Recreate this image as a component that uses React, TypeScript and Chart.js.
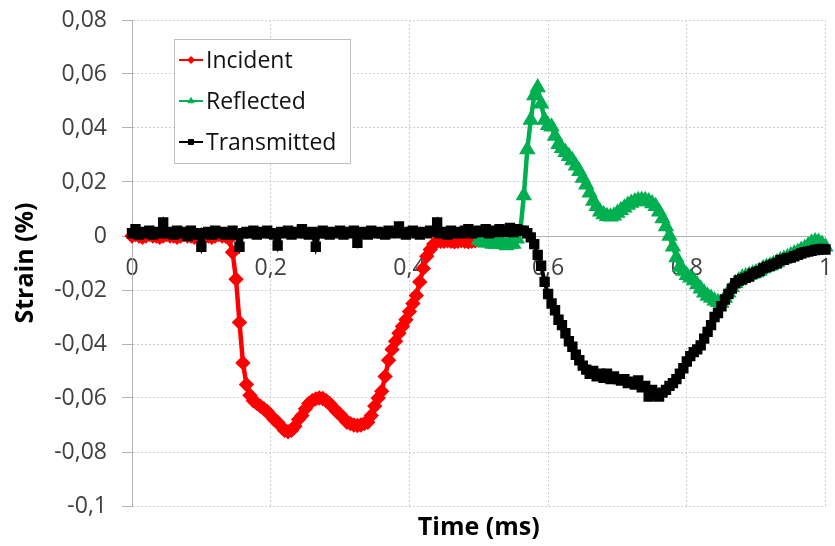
import React, { useEffect, useRef } from "react";
import { Chart, registerables } from "chart.js";
import { drawPoint } from "chart.js/helpers";

Chart.register(...registerables);

// sampling grid of the recorded signals (ms)
const timeStep = 0.005;
const timeMs = Array.from({ length: 201 }, (_, i) => Math.round(i * timeStep * 1000) / 1000);

const seriesNames = ["Incident", "Reflected", "Transmitted"];

// incident wave, t = 0 .. 0.5 ms
const incidentStrain = [
  0, 0.0005, 0, -0.0005, 0, 0.0005, 0, 0, -0.0005, 0,
  0.0005, 0, 0, -0.0005, 0, 0.0005, 0, 0, -0.0005, 0,
  0.0005, 0, 0, -0.0005, 0, 0.0005, 0, 0, -0.001,
  -0.006, -0.016, -0.032, -0.047, -0.055, -0.059, -0.061, -0.062, -0.063, -0.064,
  -0.065, -0.0665, -0.068, -0.069, -0.0705, -0.072, -0.0725, -0.072, -0.0705, -0.068,
  -0.0665, -0.064, -0.062, -0.061, -0.0603, -0.06, -0.0602, -0.061, -0.062, -0.0635,
  -0.065, -0.066, -0.0675, -0.069, -0.0695, -0.07, -0.0702, -0.07, -0.0695, -0.069,
  -0.0665, -0.063, -0.06, -0.0575, -0.052, -0.046, -0.042, -0.039, -0.036, -0.0335,
  -0.031, -0.028, -0.025, -0.022, -0.017, -0.012, -0.0075, -0.005, -0.003, -0.002,
  -0.002, -0.002, -0.0018, -0.002, -0.0022, -0.002, -0.0018, -0.002, -0.0022, -0.002,
  -0.0018, -0.0015,
];
const incidentStart = 0;

// reflected wave, t = 0.5 .. 1 ms
const reflectedStrain = [
  -0.0015, -0.002, -0.0025, -0.0025, -0.003, -0.003, -0.0025, -0.003, -0.0035, -0.003,
  -0.003, -0.001, 0.002, 0.015, 0.032, 0.043, 0.052, 0.055, 0.049, 0.043,
  0.041, 0.0405, 0.037, 0.034, 0.0325, 0.031, 0.0295, 0.028, 0.026, 0.024,
  0.0215, 0.019, 0.016, 0.013, 0.011, 0.009, 0.008, 0.0073, 0.0071, 0.0075,
  0.0085, 0.0095, 0.0105, 0.0115, 0.0122, 0.0128, 0.0132, 0.0133, 0.0132, 0.0128,
  0.012, 0.011, 0.009, 0.0065, 0.0035, 0, -0.004, -0.008, -0.0115, -0.013,
  -0.0145, -0.0155, -0.0165, -0.018, -0.0195, -0.021, -0.0222, -0.023, -0.024, -0.0245,
  -0.0248, -0.023, -0.021, -0.019, -0.0175, -0.0165, -0.0155, -0.015, -0.0145, -0.014,
  -0.0135, -0.013, -0.012, -0.0115, -0.011, -0.0105, -0.0098, -0.009, -0.0085, -0.008,
  -0.0072, -0.0065, -0.006, -0.0052, -0.0045, -0.0035, -0.0025, -0.002, -0.0022, -0.003,
  -0.004,
];
const reflectedStart = 100;

// transmitted wave, t = 0 .. 1 ms
const transmittedStrain = [
  0.001, 0.0025, 0.0005, 0.0015, 0.001, 0.002, 0.0005, 0.0015, 0.001, 0.005,
  0.001, 0.0015, 0.0005, 0.002, 0.001, 0.0015, 0, 0.002, 0.001, 0.0005,
  -0.004, 0.001, 0.0015, 0.0005, 0.002, 0.001, 0.0015, 0.0005, 0.001, 0.002,
  0.0005, -0.004, 0.001, 0.0015, 0.001, 0.002, 0.0005, 0.0015, 0.001, 0.002,
  0.001, 0.0005, -0.0035, 0.0015, 0.001, 0.002, 0.0005, 0.0015, 0.001, 0.0025,
  0.001, 0.0005, 0.0015, -0.004, 0.001, 0.002, 0.001, 0.0005, 0.0015, 0.001,
  0.002, 0.0005, 0.0015, 0.001, 0.002, -0.0025, 0.001, 0.0015, 0.0005, 0.002,
  0.001, 0.0015, 0.001, 0.0005, 0.002, 0.001, 0.0015, 0.0035, 0.001, 0.0005,
  0.0015, 0.002, 0.001, 0.0005, 0.0015, 0.001, 0.002, 0.0015, 0.005, 0.001,
  0.0015, 0.0005, 0.002, 0.001, 0.0015, 0.001, 0.002, 0.0025, 0.001, 0.0015,
  0.002, 0.0015, 0.0025, 0.001, 0.002, 0.0015, 0.0025, 0.002, 0.0015, 0.003,
  0.0015, 0.0025, 0.002,
  0.002, 0.001, -0.0005, -0.003, -0.007, -0.011, -0.017, -0.0215,
  -0.025, -0.0275, -0.031, -0.033, -0.036, -0.039, -0.041, -0.044, -0.046, -0.048,
  -0.0495, -0.051, -0.05, -0.052, -0.051, -0.0525, -0.051, -0.053, -0.052, -0.053,
  -0.0535, -0.053, -0.0545, -0.054, -0.055, -0.0535, -0.056, -0.0555, -0.0595, -0.057,
  -0.0585, -0.0595, -0.058, -0.057, -0.0555, -0.0545, -0.053, -0.051, -0.049, -0.0465,
  -0.0445, -0.043, -0.042, -0.0405, -0.038, -0.0355, -0.033, -0.03, -0.0285, -0.026,
  -0.0235, -0.0215, -0.0195, -0.0175, -0.0165, -0.016, -0.0155, -0.015, -0.014, -0.0135,
  -0.013, -0.012, -0.0115, -0.011, -0.0105, -0.01, -0.009, -0.0088, -0.0082, -0.008,
  -0.0075, -0.007, -0.0065, -0.006, -0.0058, -0.0055, -0.0052, -0.005, -0.0048, -0.005,
];
const transmittedStart = 0;

const strainTicks = { min: -0.1, max: 0.08, step: 0.02 };
const timeTicks = { min: 0, max: 1, step: 0.2 };

const toPoints = (values: number[], start: number) =>
  values.map((v, i) => ({ x: timeMs[start + i], y: v }));

const commaNumber = (v: number) => String(Math.round(v * 100) / 100).replace(".", ",");

const FONT = "'Open Sans', 'Liberation Sans', sans-serif";

const insideLegend = {
  id: "insideLegend",
  afterDraw(chart: Chart) {
    const { ctx, chartArea } = chart;
    const x = chartArea.left + 42;
    const y = chartArea.top + 19;
    const w = 176;
    const h = 124;
    ctx.save();
    ctx.fillStyle = "#ffffff";
    ctx.fillRect(x, y, w, h);
    ctx.strokeStyle = "#c0c0c0";
    ctx.lineWidth = 1;
    ctx.strokeRect(x + 0.5, y + 0.5, w, h);
    chart.data.datasets.forEach((ds: any, i: number) => {
      const cy = y + 21 + i * 41;
      ctx.strokeStyle = ds.borderColor;
      ctx.lineWidth = 2;
      ctx.beginPath();
      ctx.moveTo(x + 5, cy);
      ctx.lineTo(x + 29, cy);
      ctx.stroke();
      ctx.fillStyle = ds.pointBackgroundColor;
      ctx.strokeStyle = ds.pointBorderColor;
      ctx.lineWidth = 1;
      drawPoint(ctx, { pointStyle: ds.pointStyle, radius: 3.5, rotation: 0, borderWidth: 1 }, x + 17, cy);
      ctx.fillStyle = "#111111";
      ctx.font = `23px ${FONT}`;
      ctx.textBaseline = "alphabetic";
      ctx.textAlign = "left";
      ctx.fillText(ds.label, x + 32, cy + 8);
    });
    ctx.restore();
  },
};

const StrainChart = () => {
  const chartRef = useRef<HTMLCanvasElement>(null);
  const chartInstanceRef = useRef<Chart | null>(null);

  useEffect(() => {
    document.body.style.margin = "0";
    if (chartRef.current && !chartInstanceRef.current) {
      const context = chartRef.current.getContext("2d");
      if (context) {
        chartInstanceRef.current = new Chart(context, {
          type: "line",
          data: {
            datasets: [
              {
                label: seriesNames[0],
                data: toPoints(incidentStrain, incidentStart),
                borderColor: "#ff0000",
                backgroundColor: "#ff0000",
                pointBackgroundColor: "#ff0000",
                pointBorderColor: "#ff0000",
                pointStyle: "rectRot",
                pointRadius: 4.5,
                borderWidth: 4.5,
                order: 3,
              },
              {
                label: seriesNames[1],
                data: toPoints(reflectedStrain, reflectedStart),
                borderColor: "#00b050",
                backgroundColor: "#00b050",
                pointBackgroundColor: "#00b050",
                pointBorderColor: "#00b050",
                pointStyle: "triangle",
                pointRadius: 5,
                borderWidth: 4.5,
                order: 2,
              },
              {
                label: seriesNames[2],
                data: toPoints(transmittedStrain, transmittedStart),
                borderColor: "#000000",
                backgroundColor: "#000000",
                pointBackgroundColor: "#000000",
                pointBorderColor: "#000000",
                pointStyle: "rect",
                pointRadius: 4.5,
                borderWidth: 4,
                order: 1,
              },
            ],
          },
          options: {
            animation: false,
            responsive: true,
            maintainAspectRatio: false,
            clip: 8,
            font: { family: FONT },
            elements: { line: { tension: 0 } },
            layout: { padding: { left: 0, right: 5, top: 20, bottom: 0 } },
            scales: {
              x: {
                type: "linear",
                position: { y: 0 },
                min: timeTicks.min,
                max: timeTicks.max,
                afterFit: (s: any) => {
                  s.paddingLeft = 0;
                  s.paddingRight = 0;
                },
                ticks: {
                  stepSize: timeTicks.step,
                  padding: 19,
                  color: "#404040",
                  font: { family: FONT, size: 23 },
                  callback: (v: any) => commaNumber(Number(v)),
                },
                grid: { color: "#cfcfcf", drawTicks: false, lineWidth: 1 },
                border: { display: true, color: "#b0b0b0", dash: [2, 2] },
              },
              xTitle: {
                type: "linear",
                position: "bottom",
                min: timeTicks.min,
                max: timeTicks.max,
                afterFit: (s: any) => {
                  s.height = 40;
                },
                ticks: { display: false },
                grid: { display: false },
                border: { display: false },
                title: {
                  display: true,
                  text: "Time (ms)",
                  color: "#000000",
                  font: { family: FONT, size: 25, weight: "bold" },
                  padding: { top: 0, bottom: 3 },
                },
              },
              y: {
                type: "linear",
                position: "left",
                min: strainTicks.min,
                max: strainTicks.max,
                afterFit: (s: any) => {
                  s.width = 132;
                  s.paddingTop = 0;
                  s.paddingBottom = 0;
                },
                ticks: {
                  stepSize: strainTicks.step,
                  padding: 15,
                  color: "#404040",
                  font: { family: FONT, size: 23 },
                  callback: (v: any) => commaNumber(Number(v)),
                },
                grid: { color: "#cfcfcf", tickColor: "#b0b0b0", tickLength: 10, lineWidth: 1 },
                border: { display: true, color: "#b0b0b0", dash: [2, 2] },
                title: {
                  display: true,
                  text: "Strain (%)",
                  color: "#000000",
                  font: { family: FONT, size: 25, weight: "bold" },
                  padding: { top: 11, bottom: 0 },
                },
              },
            },
            plugins: {
              legend: { display: false },
              tooltip: { enabled: false },
            },
          },
          plugins: [insideLegend],
        } as any);
      }
    }
    return () => {
      if (chartInstanceRef.current) {
        chartInstanceRef.current.destroy();
        chartInstanceRef.current = null;
      }
    };
  }, []);

  return (
    <div style={{ position: "relative", width: 835, height: 546, background: "#ffffff" }}>
      <canvas ref={chartRef} />
    </div>
  );
};

export default function App() {
  return <StrainChart />;
}
